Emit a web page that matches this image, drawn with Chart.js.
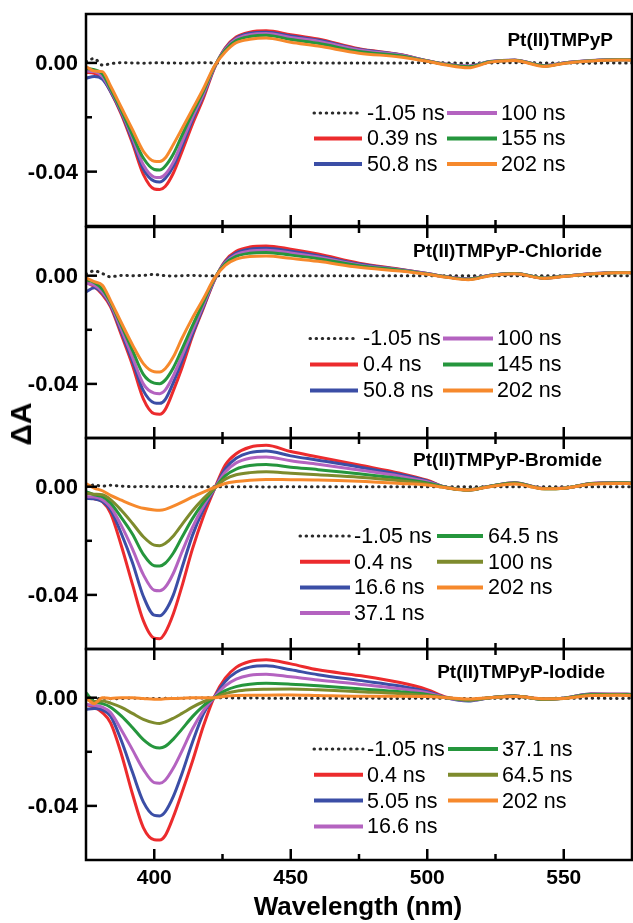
<!DOCTYPE html>
<html>
<head>
<meta charset="utf-8">
<script src="https://cdn.jsdelivr.net/npm/chart.js@4.4.1/dist/chart.umd.min.js"></script>
<style>
  body { margin: 0; background: #fff; }
  #fig { position: relative; width: 633px; height: 923px; overflow: hidden; font-family: "Liberation Sans", Arial, sans-serif; }
  #fig canvas { position: absolute; left: 0; }
  .axis-title { position: absolute; font-weight: bold; color: #000; white-space: nowrap; }
  #ylab { left: 21px; top: 424px; font-size: 30px; transform: translate(-50%, -50%) rotate(-90deg); }
  #xlab { left: 358px; top: 906px; font-size: 26px; transform: translate(-50%, -50%); }
</style>
</head>
<body>
<div id="fig">
  <canvas id="c1" width="633" height="240"></canvas>
  <canvas id="c2" width="633" height="239"></canvas>
  <canvas id="c3" width="633" height="239"></canvas>
  <canvas id="c4" width="633" height="288"></canvas>
  <div class="axis-title" id="ylab">ΔA</div>
  <div class="axis-title" id="xlab">Wavelength (nm)</div>
</div>
<script>
// wavelength grid (nm) shared by every trace; ΔA values below are in units of 1e-3
const WAVELENGTH = [375, 378, 381, 384, 388, 392, 396, 400, 402, 404, 407, 410, 414, 418, 422, 426, 430,
                    435, 441, 450, 460, 475, 490, 500, 507, 515, 523, 532, 543, 550, 560, 570, 575];

const X_MAJOR = [400, 450, 500, 550];
const X_MINOR = [425, 475, 525];
const Y_MAJOR = [0, -0.04];
const Y_MINOR = [-0.02];

// Pt(II)TMPyP
const p1Labels = ['-1.05 ns', '0.39 ns', '50.8 ns', '100 ns', '155 ns', '202 ns'];
const p1_m105 = [0.5, 1.6, -0.8, -0.3, 0.1, 0, -0.1, 0, 0.1, 0, 0, -0.1, 0, 0.1, 0, 0, -0.1, 0, 0, 0.1, 0, 0, 0, 0.1, 0, -0.1, 0, 0.1, 0, 0, -0.1, 0, 0];
const p1_039  = [-3.5, -3.8, -5.5, -10.5, -19, -29.5, -41, -46.4, -46.6, -45.5, -40.5, -33, -22.5, -13, -2, 5.5, 9.5, 11.3, 11.8, 10.4, 8.8, 5.2, 3.1, 0.8, -0.5, -1.3, 0.4, 1, -1, 0, 0.8, 1.2, 1.2];
const p1_508  = [-5.6, -5, -6, -10.5, -18.5, -28.5, -39, -43.5, -43.8, -42.5, -38, -31, -21, -12, -1.8, 5.3, 9.1, 10.9, 11.3, 9.9, 8.4, 5, 3, 0.8, -0.5, -1.2, 0.5, 1, -1, 0, 0.8, 1.2, 1.2];
const p1_100  = [-3, -3.2, -5, -10, -18, -27.5, -37.5, -42, -42.2, -41, -36.5, -29.5, -20, -11.5, -1.6, 5.1, 8.8, 10.4, 10.8, 9.4, 8, 4.8, 2.9, 0.8, -0.5, -1.2, 0.5, 1.1, -1, 0, 0.9, 1.3, 1.2];
const p1_155  = [-2, -2.5, -4, -9.5, -17.5, -26.5, -35, -39.2, -39.4, -38, -33.5, -27, -18.5, -10.5, -1.4, 4.7, 8.2, 9.7, 10.2, 8.6, 7.2, 4.2, 2.6, 0.7, -0.6, -1.4, 0.4, 1, -1.1, -0.1, 0.8, 1.2, 1.1];
const p1_202  = [-1.3, -3, -3.2, -8.5, -16.5, -24.5, -32.5, -36.2, -36.3, -35, -30, -24.5, -17, -9.5, -1.2, 4, 7.4, 8.7, 9.2, 7.6, 6.2, 3.6, 2.2, 0.6, -0.8, -1.8, 0.3, 0.9, -1.3, -0.2, 0.7, 1.1, 1];

// Pt(II)TMPyP-Chloride
const p2Labels = ['-1.05 ns', '0.4 ns', '50.8 ns', '100 ns', '145 ns', '202 ns'];
const p2_m105 = [0.6, 1.8, 0.8, -0.4, 0.1, 0, 0.1, 0.5, 0.2, 0, -0.1, 0, 0.1, 0, 0, 0, -0.1, 0, 0, 0, 0, 0, 0, 0, 0, 0, 0, 0, 0, 0, -0.1, 0, 0];
const p2_04   = [-2.5, -4, -7, -11.5, -22, -33, -45.5, -51, -51.2, -49.5, -42.5, -34.5, -22.3, -12, -1.8, 5.5, 9, 10.6, 11, 9.8, 8, 4.6, 2.4, 0.8, -0.4, -1.2, 0.2, 0.8, -0.9, -0.2, 0.7, 1.2, 1.1];
const p2_508  = [-6, -4.5, -6.5, -11, -21, -31.5, -42.5, -47, -47.2, -45.8, -39.5, -32, -21.5, -11.5, -1.6, 5.2, 8.4, 9.8, 10.1, 9, 7.4, 4.3, 2.3, 0.8, -0.4, -1.2, 0.2, 0.8, -0.9, -0.2, 0.7, 1.2, 1.1];
const p2_100  = [-2.8, -3.5, -6, -10.5, -20, -30, -40, -43.4, -43.6, -42.3, -37, -30, -20.2, -10.8, -1.4, 4.8, 7.8, 9.1, 9.4, 8.4, 6.9, 4, 2.1, 0.7, -0.5, -1.2, 0.2, 0.8, -0.9, -0.2, 0.7, 1.2, 1.1];
const p2_145  = [-1.5, -2.5, -5, -9.8, -18.5, -27.5, -36.5, -39.7, -39.9, -38.6, -34, -27.5, -18.5, -9.8, -1.2, 4.4, 7.1, 8.3, 8.6, 7.6, 6.3, 3.7, 2, 0.6, -0.5, -1.3, 0.1, 0.8, -0.9, -0.2, 0.6, 1.1, 1.1];
const p2_202  = [-0.8, -2.2, -3.5, -9.2, -17.5, -25.5, -32.5, -35.5, -35.6, -34.4, -30, -23.5, -15.6, -8.5, -1, 3.8, 6.1, 7.1, 7.3, 6.4, 5.3, 3.1, 1.7, 0.5, -0.6, -1.5, 0, 0.7, -1, -0.3, 0.6, 1.1, 1.1];

// Pt(II)TMPyP-Bromide
const p3Labels = ['-1.05 ns', '0.4 ns', '16.6 ns', '37.1 ns', '64.5 ns', '100 ns', '202 ns'];
const p3_m105 = [0.4, 0.6, 0.2, 0.5, 0.2, 0, 0.1, 0, 0, 0, 0.1, 0, 0, 0, 0, 0, 0, 0, -0.1, 0, 0, 0, 0, 0, 0, 0, 0, 0, 0, 0, 0, 0, 0];
const p3_04   = [-3.7, -4.5, -5.5, -9.8, -22, -36, -49.5, -56, -56.2, -54, -47, -37.3, -23, -11, -1, 8, 12.2, 14.6, 15.3, 13, 11, 8, 5, 2.4, -0.3, -1.2, 0.2, 1.5, -0.7, -0.6, 1.2, 1.5, 1.3];
const p3_166  = [-4.3, -4.5, -5.5, -8.5, -17.5, -28, -40.5, -47.5, -47.7, -46, -40, -30.5, -18, -8.5, -1, 6.6, 10.5, 12.6, 13.2, 11.4, 9.8, 7.3, 4.5, 2.1, -0.3, -1.2, 0.2, 1.5, -0.7, -0.6, 1.2, 1.5, 1.3];
const p3_371  = [-3.7, -3.8, -4.8, -7.5, -14.5, -23, -32.5, -38.3, -38.5, -37.2, -32, -24.5, -15, -7.2, -0.8, 5.4, 8.8, 10.5, 11, 9.6, 8.3, 6.2, 3.9, 1.8, -0.3, -1.2, 0.2, 1.4, -0.7, -0.6, 1.2, 1.5, 1.3];
const p3_645  = [-1.8, -3, -3.7, -6, -11.5, -17.5, -25, -29.2, -29.3, -28.3, -24.5, -19, -11.8, -5.8, -0.7, 4, 6.5, 7.8, 8.2, 7.2, 6.3, 4.8, 3, 1.4, -0.3, -1.2, 0.2, 1.4, -0.8, -0.6, 1.1, 1.4, 1.3];
const p3_100  = [-2.4, -2.8, -3, -4.8, -8.8, -13.5, -18.5, -21.6, -21.8, -21, -18.2, -14.2, -8.9, -4.4, -0.6, 2.8, 4.4, 5.2, 5.5, 5, 4.4, 3.5, 2.2, 1, -0.4, -1.3, 0.1, 1.3, -0.8, -0.6, 1.1, 1.4, 1.3];
const p3_202  = [1.2, -0.5, -1.5, -3.2, -5, -6.7, -8, -8.6, -8.7, -8.4, -7.2, -5.8, -3.8, -2, -0.3, 1.2, 1.9, 2.4, 2.7, 2.6, 2.5, 2, 1.2, 0.6, -0.4, -1.2, 0, 1, -0.8, -0.6, 0.9, 1.2, 1.1];

// Pt(II)TMPyP-Iodide
const p4Labels = ['-1.05 ns', '0.4 ns', '5.05 ns', '16.6 ns', '37.1 ns', '64.5 ns', '202 ns'];
const p4_m105 = [-0.3, -0.5, -0.2, -0.4, -0.3, -0.2, -0.3, -0.3, -0.3, -0.2, -0.2, -0.2, -0.1, -0.1, 0, 0, -0.1, -0.1, -0.2, -0.2, -0.2, -0.2, -0.3, -0.2, -0.2, -0.3, -0.2, -0.2, -0.3, -0.2, -0.2, -0.3, -0.2];
const p4_04   = [-2.5, -3.5, -5.5, -9.3, -21, -35.5, -48, -52.5, -52.6, -51, -44, -35.5, -23.5, -10.5, 0.3, 7.2, 11.2, 13.4, 14, 12.5, 10.3, 8.2, 5.6, 3, 0.2, -0.8, 0, 0.6, -0.5, -0.2, 1.4, 1.3, 1.2];
const p4_505  = [-4.3, -4, -4.5, -6.8, -16, -27.5, -38.5, -43.5, -43.7, -42.2, -36.5, -28.5, -16.5, -6, 0.2, 6, 9.4, 11.3, 11.8, 10.3, 8.5, 6.4, 4.3, 2.2, 0, -1.2, 0, 0.6, -0.6, -0.2, 1.4, 1.3, 1.2];
const p4_166  = [-2.5, -2.8, -3.5, -5.5, -12, -19.2, -26.5, -31.4, -31.6, -30.5, -26, -20, -11.5, -4.8, 0.1, 4.4, 6.9, 8.3, 8.7, 7.7, 6.5, 5, 3.3, 1.8, 0, -1, 0, 0.6, -0.6, -0.2, 1.3, 1.3, 1.2];
const p4_371  = [1.8, -1.5, -2.2, -3.5, -6.8, -11, -15.5, -18.3, -18.6, -18, -15.3, -11.8, -7, -3, 0, 2.6, 4.1, 5, 5.3, 5, 4.4, 3.3, 2.2, 1.2, 0, -0.9, 0, 0.6, -0.6, -0.2, 1.2, 1.2, 1.1];
const p4_645  = [-0.5, -1.5, -1.2, -2, -3.6, -5.8, -8, -9.3, -9.5, -9, -7.6, -5.9, -3.5, -1.5, 0, 1.5, 2.4, 2.9, 3.1, 3.2, 2.9, 2.2, 1.5, 0.8, 0, -0.8, 0, 0.5, -0.6, -0.3, 1, 1.1, 1];
const p4_202  = [0, -2.2, 0, -0.3, 0, 0, -0.3, -0.6, -0.6, -0.4, -0.3, -0.2, 0, 0, 0, 0.5, 0.8, 0.9, 0.9, 1, 0.8, 0.5, 0.5, 0.4, 0, -0.5, 0, 0.4, -0.4, -0.3, 0.8, 0.9, 0.8];

const DOT = '#2a2a2a', RED = '#ec2b2d', BLUE = '#3b4ea6', PURPLE = '#b463c0', GREEN = '#25963d', OLIVE = '#7e8b2d', ORANGE = '#f6892c';
const FONT = '"Liberation Sans", Arial, sans-serif';

function trace(label, values, color) {
  const dotted = color === DOT;
  return {
    label,
    data: values.map((v, i) => ({ x: WAVELENGTH[i], y: v / 1000 })),
    borderColor: color,
    borderWidth: 3,
    borderDash: dotted ? [0.5, 5.6] : [],
    borderCapStyle: dotted ? 'round' : 'butt',
    borderJoinStyle: 'round',
    pointRadius: 0,
    fill: false,
    cubicInterpolationMode: 'monotone'
  };
}

// frame, inward ticks, tick labels, panel title and two-column key
const panelDecor = {
  id: 'panelDecor',
  afterDatasetsDraw(chart, args, opts) {
    const { ctx, chartArea: a, scales: { x, y } } = chart;
    ctx.save();
    ctx.strokeStyle = '#000';
    ctx.fillStyle = '#000';
    ctx.lineWidth = 2.5;
    ctx.setLineDash([]);
    ctx.strokeRect(a.left, a.top, a.right - a.left, a.bottom - a.top);

    const tick = (x0, y0, x1, y1) => { ctx.beginPath(); ctx.moveTo(x0, y0); ctx.lineTo(x1, y1); ctx.stroke(); };
    X_MAJOR.concat(X_MINOR).forEach(v => {
      const px = x.getPixelForValue(v);
      const len = X_MAJOR.includes(v) ? 11 : 6;
      tick(px, a.bottom, px, a.bottom - len);
      if (opts.topTicks) tick(px, a.top, px, a.top + len);
    });
    Y_MAJOR.concat(Y_MINOR).forEach(v => {
      const py = y.getPixelForValue(v);
      tick(a.left, py, a.left + (Y_MAJOR.includes(v) ? 11 : 6), py);
    });

    ctx.font = 'bold 22px ' + FONT;
    ctx.textAlign = 'right';
    ctx.textBaseline = 'middle';
    Y_MAJOR.forEach(v => ctx.fillText(v.toFixed(2), a.left - 8, y.getPixelForValue(v) + 1));

    if (opts.xLabels) {
      ctx.font = 'bold 21px ' + FONT;
      ctx.textAlign = 'center';
      X_MAJOR.forEach(v => ctx.fillText(String(v), x.getPixelForValue(v), a.bottom + 18));
    }

    ctx.font = 'bold 19px ' + FONT;
    ctx.textAlign = 'right';
    ctx.fillText(opts.title, opts.titleRight, a.top + opts.titleDy);

    ctx.font = '21.5px ' + FONT;
    ctx.textAlign = 'left';
    const sets = chart.data.datasets;
    opts.columns.forEach(col => {
      col.items.forEach((idx, row) => {
        const ds = sets[idx];
        const ry = a.top + opts.rowY + row * opts.rowGap;
        ctx.strokeStyle = ds.borderColor;
        ctx.lineWidth = ds.borderDash.length ? 3 : 4;
        ctx.lineCap = ds.borderCapStyle;
        ctx.setLineDash(ds.borderDash);
        tick(col.x0, ry, col.x1, ry);
        ctx.setLineDash([]);
        ctx.fillText(ds.label, col.tx, ry + 1);
      });
    });
    ctx.restore();
  }
};

function makePanel(id, padBottom, labels, series, colors, deco) {
  const datasets = series.map((s, i) => Object.assign(trace(labels[i], s, colors[i]), { order: series.length - i }));
  return new Chart(document.getElementById(id), {
    type: 'line',
    data: { datasets },
    options: {
      responsive: false,
      animation: false,
      events: [],
      layout: { padding: { left: 86, right: 1, top: 14, bottom: padBottom } },
      scales: {
        x: { type: 'linear', min: 375, max: 575, display: false },
        y: { type: 'linear', min: -0.06, max: 0.018, display: false }
      },
      plugins: { legend: { display: false }, tooltip: { enabled: false }, panelDecor: deco }
    },
    plugins: [panelDecor]
  });
}

function place(id, areaTop) { document.getElementById(id).style.top = (areaTop - 14) + 'px'; }

const six = [DOT, RED, BLUE, PURPLE, GREEN, ORANGE];
const seven = [DOT, RED, BLUE, PURPLE, GREEN, OLIVE, ORANGE];

place('c1', 14);
makePanel('c1', 14, p1Labels, [p1_m105, p1_039, p1_508, p1_100, p1_155, p1_202], six, {
  title: 'Pt(II)TMPyP', titleRight: 613, titleDy: 27, topTicks: false, xLabels: false,
  rowY: 99, rowGap: 25.5,
  columns: [{ x0: 314, x1: 362, tx: 367, items: [0, 1, 2] }, { x0: 447, x1: 497, tx: 501, items: [3, 4, 5] }]
});

place('c2', 227);
makePanel('c2', 14, p2Labels, [p2_m105, p2_04, p2_508, p2_100, p2_145, p2_202], six, {
  title: 'Pt(II)TMPyP-Chloride', titleRight: 602, titleDy: 25, topTicks: true, xLabels: false,
  rowY: 111.5, rowGap: 26,
  columns: [{ x0: 310, x1: 358, tx: 363, items: [0, 1, 2] }, { x0: 443, x1: 493, tx: 497, items: [3, 4, 5] }]
});

place('c3', 438);
makePanel('c3', 14, p3Labels, [p3_m105, p3_04, p3_166, p3_371, p3_645, p3_100, p3_202], seven, {
  title: 'Pt(II)TMPyP-Bromide', titleRight: 602, titleDy: 23, topTicks: true, xLabels: false,
  rowY: 98, rowGap: 25.7,
  columns: [{ x0: 300, x1: 350, tx: 354, items: [0, 1, 2, 3] }, { x0: 437, x1: 483, tx: 488, items: [4, 5, 6] }]
});

place('c4', 649);
makePanel('c4', 63, p4Labels, [p4_m105, p4_04, p4_505, p4_166, p4_371, p4_645, p4_202], seven, {
  title: 'Pt(II)TMPyP-Iodide', titleRight: 605, titleDy: 24, topTicks: true, xLabels: true,
  rowY: 100, rowGap: 25.8,
  columns: [{ x0: 314, x1: 363, tx: 367, items: [0, 1, 2, 3] }, { x0: 448, x1: 498, tx: 502, items: [4, 5, 6] }]
});
</script>
</body>
</html>
